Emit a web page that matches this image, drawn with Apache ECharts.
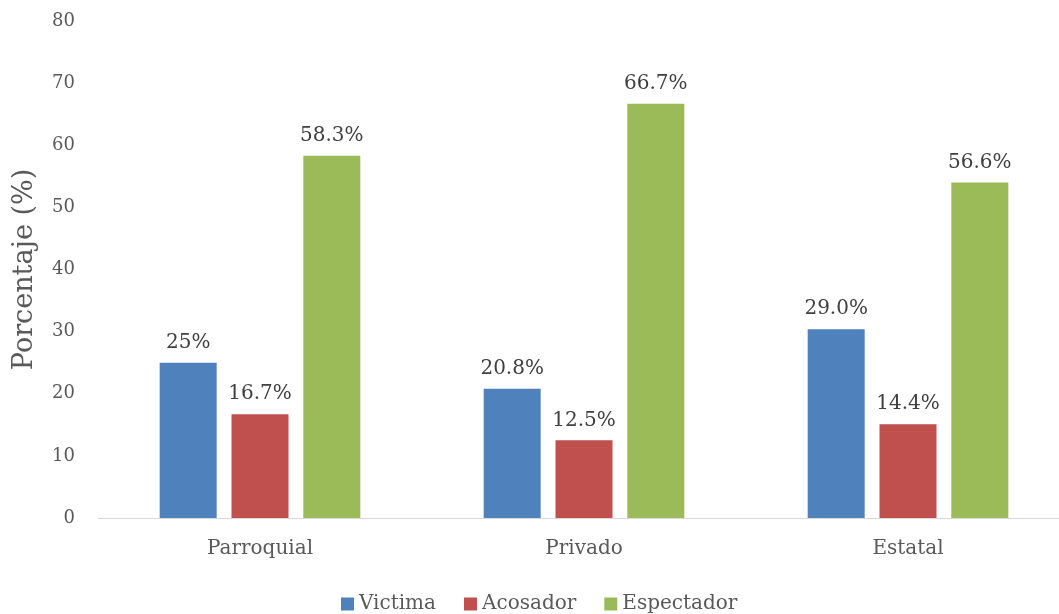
<!DOCTYPE html>
<html>
<head>
<meta charset="utf-8">
<script src="https://cdn.jsdelivr.net/npm/echarts@6/dist/echarts.min.js"></script>
<style>html,body{margin:0;padding:0;background:#fff;overflow:hidden}#c{width:1070px;height:614px}</style>
</head>
<body>
<div id="c"></div>
<script>
const categories = ['Parroquial', 'Privado', 'Estatal'];
const seriesNames = ['Victima', 'Acosador', 'Espectador'];
const victima = [25, 20.8, 30.4];
const acosador = [16.7, 12.5, 15.1];
const espectador = [58.3, 66.7, 54.0];
const victimaLabels = ['25%', '20.8%', '29.0%'];
const acosadorLabels = ['16.7%', '12.5%', '14.4%'];
const espectadorLabels = ['58.3%', '66.7%', '56.6%'];
const yTicks = [0, 10, 20, 30, 40, 50, 60, 70, 80];
const colors = ['#4F81BD', '#C0504D', '#9BBB59'];

const FONT = 'DejaVu Serif';
const chart = echarts.init(document.getElementById('c'));
function mk(name, data, labels, color) {
  return {
    name: name, type: 'bar', data: data, barWidth: 57, barGap: '26%',
    itemStyle: { color: color },
    label: { show: true, position: 'top', distance: 10, color: '#404040', fontFamily: FONT, fontSize: 20,
      formatter: p => labels[p.dataIndex] }
  };
}
chart.setOption({
  animation: false,
  textStyle: { fontFamily: FONT },
  grid: { left: 98, right: 0, top: 21, bottom: 96, containLabel: false },
  legend: {
    left: 336, bottom: -5, itemWidth: 13, itemHeight: 13, itemGap: 28, icon: 'rect',
    textStyle: { fontFamily: FONT, fontSize: 20, color: '#595959' },
    data: seriesNames
  },
  xAxis: {
    type: 'category', data: categories,
    axisLine: { lineStyle: { color: '#D9D9D9', width: 1 } },
    axisTick: { show: false },
    axisLabel: { color: '#595959', fontFamily: FONT, fontSize: 20, margin: 21 }
  },
  yAxis: {
    type: 'value', min: yTicks[0], max: yTicks[yTicks.length - 1], interval: 10,
    name: 'Porcentaje (%)', nameLocation: 'middle', nameGap: 60,
    nameTextStyle: { fontFamily: FONT, fontSize: 27, color: '#595959' },
    axisLine: { show: false }, axisTick: { show: false }, splitLine: { show: false },
    axisLabel: { color: '#595959', fontFamily: FONT, fontSize: 18, margin: 23 }
  },
  series: [
    mk(seriesNames[0], victima, victimaLabels, colors[0]),
    mk(seriesNames[1], acosador, acosadorLabels, colors[1]),
    mk(seriesNames[2], espectador, espectadorLabels, colors[2])
  ]
});
</script>
</body>
</html>
